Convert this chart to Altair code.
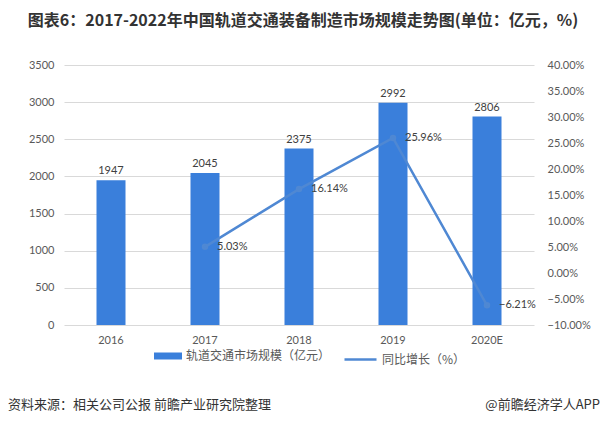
import altair as alt
import pandas as pd

years = ["2016", "2017", "2018", "2019", "2020E"]
market_size = [1947, 2045, 2375, 2992, 2806]
growth = [None, 5.03, 16.14, 25.96, -6.21]

left_ticks = [0, 500, 1000, 1500, 2000, 2500, 3000, 3500]
right_ticks = [-10, -5, 0, 5, 10, 15, 20, 25, 30, 35, 40]

title_text = "图表6：2017-2022年中国轨道交通装备制造市场规模走势图(单位：亿元，%)"
bar_name = "轨道交通市场规模（亿元）"
line_name = "同比增长（%）"
source_text = "资料来源：相关公司公报 前瞻产业研究院整理"
brand_text = "@前瞻经济学人APP"

df = pd.DataFrame({"year": years, "size": market_size, "growth": growth})

BAR = "#3A7FDB"
LINE = "#4F88D3"
LABEL = "#595959"
NUM_FONT = "Lato"
CJK_FONT = "Noto Sans CJK SC"

x = alt.X("year:N", sort=years,
          scale=alt.Scale(paddingInner=0, paddingOuter=0),
          axis=alt.Axis(title=None, labelAngle=0, ticks=False, domain=False,
                        labelPadding=9, labelFontSize=11, labelColor=LABEL,
                        labelFont=NUM_FONT))

ly = alt.Y("size:Q", scale=alt.Scale(domain=[0, 3500]),
           axis=alt.Axis(title=None, values=left_ticks, ticks=False, domain=False,
                         format="d", labelPadding=10, labelFontSize=11, labelColor=LABEL,
                         labelFont=NUM_FONT, gridColor="#D9D9D9"))

gy = alt.Y("growth:Q", scale=alt.Scale(domain=[-10, 40]),
           axis=alt.Axis(title=None, orient="right", values=right_ticks, grid=False,
                         ticks=False, domain=False, labelPadding=13, labelFontSize=11,
                         labelColor=LABEL, labelFont=NUM_FONT,
                         labelExpr="format(datum.value, '.2f') + '%'"))

base = alt.Chart(df)

bars = base.mark_bar(size=29).encode(
    x=x,
    y=ly,
    color=alt.Color("s:N", scale=alt.Scale(domain=[bar_name], range=[BAR]),
                    legend=alt.Legend(title=None, orient="none", legendX=90, legendY=277,
                                      symbolType="M-1,-0.25H1V0.25H-1Z", symbolSize=784,
                                      symbolStrokeWidth=0, labelFontSize=12,
                                      labelFont=CJK_FONT, labelColor=LABEL,
                                      labelOffset=4, padding=0)),
).transform_calculate(s=f"'{bar_name}'")

bar_labels = base.mark_text(dy=-4, fontSize=11, color="#404040", font=NUM_FONT,
                            baseline="bottom").encode(
    x=x,
    y=ly,
    text=alt.Text("size:Q"),
)

left = alt.layer(bars, bar_labels)

line_base = base.transform_filter("isValid(datum.growth)")

line = line_base.mark_line(strokeWidth=2.5, point=alt.OverlayMarkDef(size=20, filled=True, color=LINE)).encode(
    x=x,
    y=gy,
    stroke=alt.Stroke("t:N", scale=alt.Scale(domain=[line_name], range=[LINE]),
                      legend=alt.Legend(title=None, orient="none", legendX=279, legendY=277,
                                        symbolType="stroke", symbolSize=1024,
                                        symbolStrokeWidth=2.5, labelFontSize=12,
                                        labelFont=CJK_FONT, labelColor=LABEL,
                                        labelOffset=4, padding=0)),
).transform_calculate(t=f"'{line_name}'")

line_labels = line_base.mark_text(align="left", dx=12, fontSize=11, color="#404040",
                                  font=NUM_FONT).encode(
    x=x,
    y=gy,
    text=alt.Text("lbl:N"),
).transform_calculate(lbl="format(datum.growth, '.2f') + '%'")

right = alt.layer(line, line_labels)

footer_left = alt.Chart(pd.DataFrame({"t": [source_text]})).mark_text(
    align="left", baseline="middle", fontSize=13, font=CJK_FONT, color="#333333"
).encode(x=alt.value(-56), y=alt.value(340), text="t:N")

footer_right = alt.Chart(pd.DataFrame({"t": [brand_text]})).mark_text(
    align="right", baseline="middle", fontSize=13, font=CJK_FONT, color="#333333"
).encode(x=alt.value(536), y=alt.value(340), text="t:N")

chart = alt.layer(left, right, footer_left, footer_right).resolve_scale(
    y="independent"
).properties(
    width=470, height=260,
    background="white",
    title=alt.TitleParams(title_text, anchor="middle", fontSize=16, fontWeight="bold",
                          font=CJK_FONT, color="#333333", offset=30, dx=4),
    autosize=alt.AutoSizeParams(type="none"),
    padding={"left": 56, "top": 57, "right": 67, "bottom": 92},
).configure_view(stroke=None)

chart.save("out.html", embed_options={"renderer": "svg", "actions": False})
